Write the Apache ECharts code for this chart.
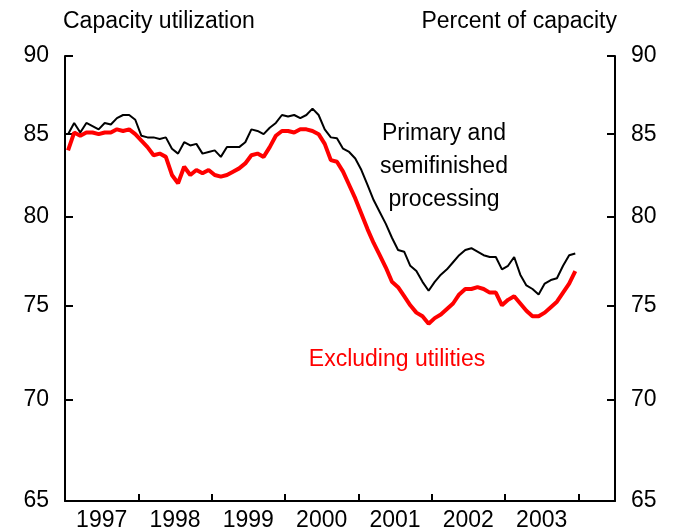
<!DOCTYPE html>
<html>
<head>
<meta charset="utf-8">
<script src="https://cdn.jsdelivr.net/npm/echarts@6/dist/echarts.min.js"></script>
<style>
html,body{margin:0;padding:0;background:#fff;}
#chart{width:675px;height:532px;}
</style>
</head>
<body>
<div id="chart"></div>
<script>
// Monthly data, Jan 1997 - Dec 2003
const startYear = 1997;
const primaryProcessing = [
  85.0, 85.7, 85.1, 85.7, 85.5, 85.3, 85.7, 85.6, 86.0, 86.2, 86.2, 85.9,
  84.9, 84.8, 84.8, 84.7, 84.8, 84.1, 83.8, 84.5, 84.3, 84.4, 83.8, 83.9,
  84.0, 83.6, 84.2, 84.2, 84.2, 84.5, 85.3, 85.2, 85.0, 85.4, 85.7, 86.2,
  86.1, 86.2, 86.0, 86.2, 86.6, 86.2, 85.3, 84.8, 84.75, 84.1, 83.9, 83.5,
  82.8, 81.9, 81.0, 80.3, 79.6, 78.8, 78.1, 78.0, 77.2, 76.9, 76.3, 75.8,
  76.3, 76.7, 77.0, 77.4, 77.8, 78.1, 78.2, 78.0, 77.8, 77.7, 77.7, 77.0,
  77.2, 77.7, 76.7, 76.1, 75.9, 75.6, 76.2, 76.4, 76.5, 77.2, 77.8, 77.9
];
const excludingUtilities = [
  84.0, 85.1, 84.9, 85.1, 85.1, 85.0, 85.1, 85.1, 85.3, 85.2, 85.3, 85.0,
  84.6, 84.2, 83.7, 83.8, 83.6, 82.5, 82.0, 83.0, 82.5, 82.8, 82.6, 82.8,
  82.5, 82.4, 82.5, 82.7, 82.9, 83.2, 83.7, 83.8, 83.6, 84.2, 84.9, 85.2,
  85.2, 85.1, 85.3, 85.3, 85.2, 85.0, 84.4, 83.4, 83.3, 82.7, 81.9, 81.1,
  80.2, 79.3, 78.5, 77.8, 77.1, 76.3, 76.0, 75.5, 75.0, 74.6, 74.4, 74.0,
  74.3, 74.5, 74.8, 75.1, 75.6, 75.9, 75.9, 76.0, 75.9, 75.7, 75.7, 75.0,
  75.3, 75.5, 75.1, 74.7, 74.4, 74.4, 74.6, 74.9, 75.2, 75.7, 76.2, 76.9
];
const yTicks = [65, 70, 75, 80, 85, 90];
const yearLabels = ['1997', '1998', '1999', '2000', '2001', '2002', '2003'];

// x in months since Jan 1997, plotted mid-month
const toPairs = arr => arr.map((v, i) => [i + 0.5, v]);
const yearTickPos = yearLabels.map((y, i) => (i + 1) * 12);
const yearLabelPos = yearLabels.map((y, i) => i * 12 + 6);

const FONT = 'Liberation Sans, Arial, Helvetica, sans-serif';
const FS = 23;

const yAxisCommon = {
  type: 'log',
  logBase: 10,
  min: 65,
  max: 90,
  axisLine: { show: true, lineStyle: { color: '#000', width: 2 } },
  axisTick: { show: true, inside: true, length: 8, lineStyle: { color: '#000', width: 2 }, customValues: yTicks },
  axisLabel: { customValues: yTicks, color: '#000', fontSize: FS, fontFamily: FONT, margin: 16 },
  splitLine: { show: false },
  minorTick: { show: false }
};

const chart = echarts.init(document.getElementById('chart'), null, { renderer: 'canvas' });
chart.setOption({
  animation: false,
  backgroundColor: '#fff',
  grid: { left: 65, right: 60, top: 56, bottom: 30 },
  xAxis: {
    type: 'value',
    min: 0,
    max: 90,
    axisLine: { show: true, lineStyle: { color: '#000', width: 2 } },
    axisTick: { show: true, inside: true, length: 7, lineStyle: { color: '#000', width: 2 }, customValues: yearTickPos },
    axisLabel: {
      customValues: yearLabelPos,
      formatter: v => yearLabels[Math.round((v - 6) / 12)],
      color: '#000', fontSize: FS, fontFamily: FONT, margin: 8
    },
    splitLine: { show: false }
  },
  yAxis: [
    Object.assign({ position: 'left' }, yAxisCommon),
    Object.assign({ position: 'right' }, yAxisCommon)
  ],
  series: [
    {
      name: 'Primary and semifinished processing',
      type: 'line',
      data: toPairs(primaryProcessing),
      symbol: 'none',
      lineStyle: { color: '#000', width: 2 },
      z: 2
    },
    {
      name: 'Excluding utilities',
      type: 'line',
      data: toPairs(excludingUtilities),
      symbol: 'none',
      lineStyle: { color: '#ff0000', width: 4 },
      z: 3
    }
  ],
  graphic: [
    { type: 'text', x: 63, y: 22, style: { text: 'Capacity utilization', font: FS + 'px ' + FONT, fill: '#000', textAlign: 'left', textVerticalAlign: 'middle' } },
    { type: 'text', x: 617, y: 22, style: { text: 'Percent of capacity', font: FS + 'px ' + FONT, fill: '#000', textAlign: 'right', textVerticalAlign: 'middle' } },
    { type: 'text', x: 444, y: 117, style: { text: 'Primary and\nsemifinished\nprocessing', font: FS + 'px ' + FONT, fill: '#000', textAlign: 'center', textVerticalAlign: 'top', lineHeight: 33 } },
    { type: 'text', x: 397, y: 360, style: { text: 'Excluding utilities', font: FS + 'px ' + FONT, fill: '#ff0000', textAlign: 'center', textVerticalAlign: 'middle' } }
  ]
});
</script>
</body>
</html>
